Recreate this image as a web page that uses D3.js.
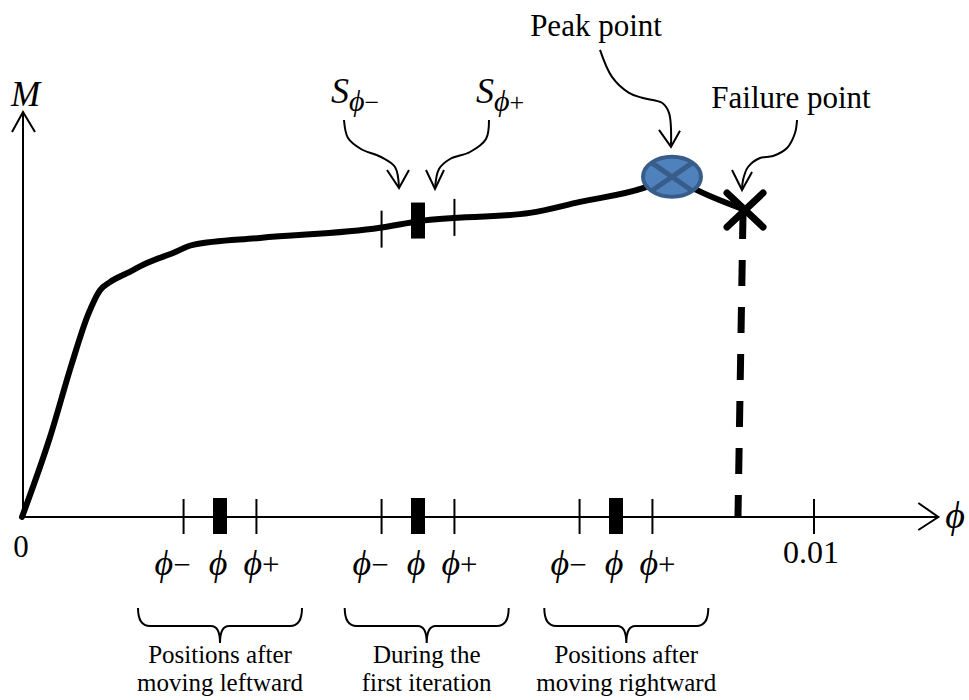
<!DOCTYPE html>
<html>
<head>
<meta charset="utf-8">
<script src="https://cdn.jsdelivr.net/npm/d3@7"></script>
<style>
  html, body { margin: 0; padding: 0; background: #fff; }
  text { font-family: "Liberation Serif", "Times New Roman", serif; fill: #000; }
</style>
</head>
<body>
<svg id="chart" width="969" height="700"></svg>
<script>
// ---------------- data ----------------
// moment–curvature curve (phi, M)
const curvePhi = [0, 0.000354, 0.000631, 0.000833, 0.000985, 0.00111, 0.001326, 0.001578, 0.001907, 0.002159, 0.003005, 0.00452, 0.005025, 0.006414, 0.007045, 0.007841, 0.008207, 0.008523, 0.009129];
const curveM   = [0, 0.1975, 0.380, 0.499, 0.560, 0.580, 0.602, 0.627, 0.652, 0.672, 0.689, 0.714, 0.731, 0.751, 0.778, 0.812, 0.840, 0.807, 0.758];

// trial positions along the phi axis
const groupPhi = [0.0025, 0.005, 0.0075];
const deltaPhi = 0.00046;
const braceCenterPhi = [0.0025, 0.00511, 0.00763];
const braceLines = [["Positions after", "moving leftward"], ["During the", "first iteration"], ["Positions after", "moving rightward"]];

// markers on the curve (first iteration)
const onCurvePhi = [0.005 - 0.00046, 0.005, 0.005 + 0.00046];
const onCurveM   = [0.712, 0.732, 0.741];

const peakPoint    = {phi: 0.008207, M: 0.840};
const failurePoint = {phi: 0.009129, M: 0.758};
const failureBasePhi = 0.00904;

const xTickValues = [0.01];
const xTickLabels = ["0.01"];
const xAxisMaxPhi = 0.01157;
const yAxisMaxM = 1.0;

// ---------------- drawing ----------------
const svg = d3.select("#chart");
const x = d3.scaleLinear().domain([0, 0.01]).range([22, 814]);
const y = d3.scaleLinear().domain([0, 1]).range([517, 112]);
const PHI = "\u03D5";
const MINUS = "\u2212";

const arrowHead = (g, tx, ty, a1, a2, w) =>
  g.append("path")
   .attr("d", `M${tx + a1[0]},${ty + a1[1]}L${tx},${ty}L${tx + a2[0]},${ty + a2[1]}`)
   .attr("fill", "none").attr("stroke", "#000").attr("stroke-width", w)
   .attr("stroke-linejoin", "miter");

// axes
const axes = svg.append("g");
axes.append("line").attr("x1", x(0)).attr("x2", x(xAxisMaxPhi)).attr("y1", y(0)).attr("y2", y(0))
  .attr("stroke", "#000").attr("stroke-width", 2);
arrowHead(axes, x(xAxisMaxPhi), y(0), [-20, -14], [-20, 13], 2);
axes.append("line").attr("x1", x(0) + 1).attr("x2", x(0) + 1).attr("y1", y(0)).attr("y2", y(yAxisMaxM))
  .attr("stroke", "#000").attr("stroke-width", 2);
arrowHead(axes, x(0) + 1, y(yAxisMaxM), [-11, 20], [12, 20], 2);

axes.append("text").attr("x", 11).attr("y", 106).style("font-size", "35px").style("font-style", "italic").text("M");
axes.append("text").attr("x", x(xAxisMaxPhi) + 7).attr("y", 528).style("font-size", "38px").style("font-style", "italic").text(PHI);
axes.append("text").attr("x", x(0) - 1).attr("y", 557).attr("text-anchor", "middle").style("font-size", "31px").text("0");

xTickValues.forEach((v, i) => {
  axes.append("line").attr("x1", x(v)).attr("x2", x(v)).attr("y1", y(0) - 18).attr("y2", y(0) + 17)
    .attr("stroke", "#000").attr("stroke-width", 2);
  axes.append("text").attr("x", x(v) - 3).attr("y", 563).attr("text-anchor", "middle").style("font-size", "32px").text(xTickLabels[i]);
});

// groups on the axis
const groups = svg.append("g");
groupPhi.forEach((p) => {
  [p - deltaPhi, p + deltaPhi].forEach(q => {
    groups.append("line").attr("x1", x(q)).attr("x2", x(q)).attr("y1", y(0) - 18).attr("y2", y(0) + 17)
      .attr("stroke", "#000").attr("stroke-width", 2);
  });
  groups.append("rect").attr("x", x(p) - 7).attr("y", y(0) - 19).attr("width", 14).attr("height", 36).attr("fill", "#000");
  const ty = 575;
  groups.append("text").attr("x", x(p - deltaPhi) - 29).attr("y", ty).style("font-size", "31px")
    .html(`<tspan font-style="italic" style="font-size:36px">${PHI}</tspan>${MINUS}`);
  groups.append("text").attr("x", x(p) - 2).attr("y", ty).attr("text-anchor", "middle").style("font-size", "36px")
    .style("font-style", "italic").text(PHI);
  groups.append("text").attr("x", x(p + deltaPhi) - 13).attr("y", ty).style("font-size", "31px")
    .html(`<tspan font-style="italic" style="font-size:36px">${PHI}</tspan>+`);
});

// braces
braceCenterPhi.forEach((p, i) => {
  const c = x(p), x0 = c - 82, x1 = c + 82, top = 608, mid = 626, tip = 643;
  groups.append("path")
    .attr("d", `M${x0},${top}Q${x0},${mid} ${x0 + 12},${mid}L${c - 9},${mid}Q${c},${mid} ${c},${tip}Q${c},${mid} ${c + 9},${mid}L${x1 - 12},${mid}Q${x1},${mid} ${x1},${top}`)
    .attr("fill", "none").attr("stroke", "#000").attr("stroke-width", 2);
  braceLines[i].forEach((t, j) => {
    groups.append("text").attr("x", c).attr("y", 663 + j * 28).attr("text-anchor", "middle")
      .style("font-size", "25px").text(t);
  });
});

// curve
const pts = curvePhi.map((p, i) => [x(p), y(curveM[i])]);
svg.append("path").attr("d", d3.line().curve(d3.curveMonotoneX)(pts))
  .attr("fill", "none").attr("stroke", "#000").attr("stroke-width", 6)
  .attr("stroke-linejoin", "round").attr("stroke-linecap", "round");

// dashed line to the axis
svg.append("line").attr("x1", x(failurePoint.phi) - 2).attr("y1", y(failurePoint.M) + 3)
  .attr("x2", x(failureBasePhi)).attr("y2", y(0))
  .attr("stroke", "#000").attr("stroke-width", 7).attr("stroke-dasharray", "26,21");

// markers on the curve
onCurvePhi.forEach((p, i) => {
  if (i === 1) {
    svg.append("rect").attr("x", x(p) - 7).attr("y", y(onCurveM[i]) - 18).attr("width", 14).attr("height", 36).attr("fill", "#000");
  } else {
    svg.append("line").attr("x1", x(p)).attr("x2", x(p)).attr("y1", y(onCurveM[i]) - 18).attr("y2", y(onCurveM[i]) + 19)
      .attr("stroke", "#000").attr("stroke-width", 2);
  }
});

// peak point
const px = x(peakPoint.phi), py = y(peakPoint.M), rx = 29, ry = 20;
svg.append("ellipse").attr("cx", px).attr("cy", py).attr("rx", rx).attr("ry", ry)
  .attr("fill", "#4F81BD").attr("stroke", "#385D8A").attr("stroke-width", 4);
const k = Math.SQRT1_2;
svg.append("path")
  .attr("d", `M${px - rx * k},${py - ry * k}L${px + rx * k},${py + ry * k}M${px + rx * k},${py - ry * k}L${px - rx * k},${py + ry * k}`)
  .attr("stroke", "#385D8A").attr("stroke-width", 5);

// failure point X
const fx = x(failurePoint.phi), fy = y(failurePoint.M);
svg.append("path")
  .attr("d", `M${fx - 18},${fy - 17}L${fx + 18},${fy + 17}M${fx + 18},${fy - 17}L${fx - 18},${fy + 17}`)
  .attr("stroke", "#000").attr("stroke-width", 7).attr("stroke-linecap", "round");

// annotations
const ann = svg.append("g");
const curvy = d3.line().curve(d3.curveCatmullRom.alpha(0.5));
function annArrow(tx, ty, rel, a1, a2) {
  ann.append("path").attr("d", curvy(rel.map(d => [tx + d[0], ty + d[1]])))
    .attr("fill", "none").attr("stroke", "#000").attr("stroke-width", 2);
  arrowHead(ann, tx, ty, a1, a2, 2);
}
const barX = x(onCurvePhi[1]);
// S_phi- arrow
annArrow(barX - 19, 188, [[-55, -68], [-51, -50], [-38, -39], [-18, -31], [-4, -21], [0, 0]], [-12, -18], [10, -18]);
// S_phi+ arrow
annArrow(barX + 17, 189, [[54, -69], [51, -50], [35, -37], [15, -30], [4, -20], [0, 0]], [-9, -19], [9, -19]);
// peak arrow
annArrow(px - 1, py - 30, [[-71, -97], [-59, -70], [-42, -54], [-29, -49], [-9, -44], [-2, -34], [0, 0]], [-12, -17], [9, -16]);
// failure arrow
annArrow(fx - 3, fy - 20, [[55, -70], [53, -57], [45, -42], [31, -34], [18, -32], [6, -23], [1, -10], [0, 0]], [-10, -20], [10, -18]);

ann.append("text").attr("x", 331).attr("y", 103).style("font-size", "36px").style("font-style", "italic")
  .html(`S<tspan dy="8" style="font-size:30px">${PHI}</tspan><tspan style="font-size:26px;font-style:normal">${MINUS}</tspan>`);
ann.append("text").attr("x", 476).attr("y", 103).style("font-size", "36px").style("font-style", "italic")
  .html(`S<tspan dy="8" style="font-size:30px">${PHI}</tspan><tspan style="font-size:26px;font-style:normal">+</tspan>`);
ann.append("text").attr("x", 596).attr("y", 36).attr("text-anchor", "middle").style("font-size", "31px").text("Peak point");
ann.append("text").attr("x", 791).attr("y", 108).attr("text-anchor", "middle").style("font-size", "31px").text("Failure point");
</script>
</body>
</html>
